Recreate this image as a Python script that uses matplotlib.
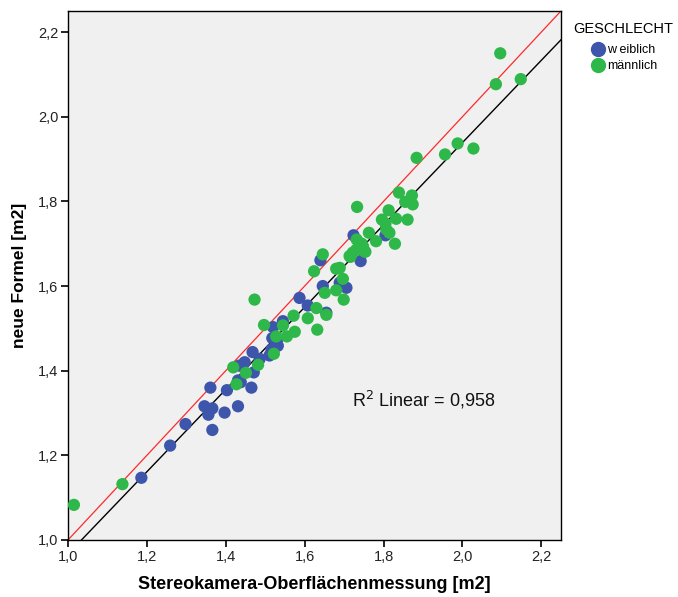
import numpy as np
import matplotlib
matplotlib.use("Agg")
import matplotlib.pyplot as plt
from matplotlib.ticker import FuncFormatter
from matplotlib.lines import Line2D

# Body surface area: stereo camera measurement vs. new formula, by sex
weiblich_x = [1.186, 1.259, 1.298, 1.366, 1.346, 1.366, 1.356, 1.361, 1.397, 1.403,
              1.431, 1.434, 1.431, 1.438, 1.465, 1.448, 1.471, 1.486, 1.468, 1.511,
              1.516, 1.532, 1.530, 1.518, 1.520, 1.545, 1.587, 1.608, 1.655, 1.646,
              1.706, 1.689, 1.640, 1.742, 1.724, 1.805]
weiblich_y = [1.147, 1.223, 1.274, 1.260, 1.316, 1.311, 1.296, 1.360, 1.301, 1.354,
              1.316, 1.412, 1.377, 1.373, 1.360, 1.420, 1.396, 1.428, 1.444, 1.436,
              1.450, 1.459, 1.473, 1.477, 1.503, 1.517, 1.572, 1.554, 1.537, 1.600,
              1.596, 1.608, 1.661, 1.659, 1.720, 1.720]

maennlich_x = [1.015, 1.138, 1.419, 1.427, 1.451, 1.482, 1.522, 1.528, 1.555, 1.545,
               1.497, 1.575, 1.473, 1.572, 1.608, 1.632, 1.630, 1.655, 1.651, 1.680,
               1.699, 1.697, 1.680, 1.689, 1.624, 1.646, 1.714, 1.722, 1.732, 1.752,
               1.763, 1.884, 1.956, 2.028, 1.839, 1.872, 1.855, 1.874, 1.733, 1.813,
               1.796, 1.832, 1.861, 1.805, 1.807, 1.815, 1.781, 1.829, 1.748, 1.754,
               1.731, 1.716, 2.096, 2.085, 2.148, 1.988, 1.745]
maennlich_y = [1.083, 1.132, 1.408, 1.368, 1.395, 1.414, 1.440, 1.481, 1.481, 1.507,
               1.508, 1.492, 1.568, 1.530, 1.524, 1.497, 1.548, 1.532, 1.584, 1.590,
               1.568, 1.617, 1.641, 1.643, 1.635, 1.675, 1.671, 1.679, 1.710, 1.682,
               1.726, 1.903, 1.911, 1.925, 1.821, 1.814, 1.799, 1.793, 1.787, 1.779,
               1.757, 1.759, 1.757, 1.748, 1.734, 1.726, 1.706, 1.700, 1.694, 1.681,
               1.686, 1.669, 2.150, 2.077, 2.089, 1.937, 1.700]

r2_label = "0,958"
tick_values = [1.0, 1.2, 1.4, 1.6, 1.8, 2.0, 2.2]

plt.rcParams['font.family'] = ['Liberation Sans', 'DejaVu Sans']

fig = plt.figure(figsize=(6.78, 5.97), dpi=100)
ax = fig.add_axes([0.1003, 0.0955, 0.7271, 0.8861])
ax.set_facecolor('#f0f0f0')

blue = '#3d56ab'
green = '#2fb84a'

ax.scatter(weiblich_x, weiblich_y, s=78, color=blue, edgecolors='none', zorder=3)
ax.scatter(maennlich_x, maennlich_y, s=78, color=green, edgecolors='none', zorder=3)

lo, hi = 1.0, 2.25
ax.set_xlim(lo, hi)
ax.set_ylim(lo, hi)

# identity line
ax.plot([lo, hi], [lo, hi], color='#ff2a2a', lw=0.9, zorder=2)

# linear fit over all points
all_x = np.array(weiblich_x + maennlich_x)
all_y = np.array(weiblich_y + maennlich_y)
slope, intercept = np.polyfit(all_x, all_y, 1)
xs = np.array([lo, hi])
ax.plot(xs, slope * xs + intercept, color='black', lw=1.0, zorder=2)

ax.text(1.72, 1.331, "R$^2$ Linear = " + r2_label, fontsize=13,
        va='center', ha='left', color='#111111')

fmt = FuncFormatter(lambda v, p: f"{v:.1f}".replace('.', ','))
ax.set_xticks(tick_values)
ax.set_yticks(tick_values)
ax.xaxis.set_major_formatter(fmt)
ax.yaxis.set_major_formatter(fmt)
ax.tick_params(direction='out', length=5, width=1.2, labelsize=10.5,
               colors='black', labelcolor='#222222', pad=2)
for sp in ax.spines.values():
    sp.set_linewidth(1.0)
    sp.set_color('black')

ax.set_xlabel("Stereokamera-Oberflächenmessung [m2]", fontsize=13,
              fontweight='bold', labelpad=9)
ax.set_ylabel("neue Formel [m2]", fontsize=12.5, fontweight='bold', labelpad=8)

handles = [Line2D([], [], marker='o', ls='none', color=blue, markersize=10),
           Line2D([], [], marker='o', ls='none', color=green, markersize=10)]
leg = fig.legend(handles, ['w eiblich', 'männlich'], title='GESCHLECHT',
                 loc='upper left', bbox_to_anchor=(0.833, 0.978), frameon=False,
                 fontsize=9, title_fontsize=10.5, handletextpad=0.0,
                 labelspacing=0.3, borderpad=0.2, handlelength=1.4)
leg._legend_box.sep = 6

fig.savefig("out.png", dpi=100, facecolor='white')
